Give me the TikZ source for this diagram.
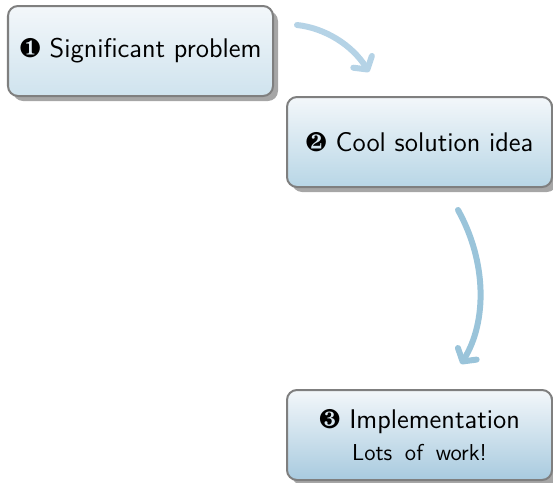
\documentclass[tikz,border=0pt]{standalone}
\usepackage{pifont}
\usetikzlibrary{shadows,arrows.meta}
\definecolor{bordergray}{HTML}{7F7F7F}
\definecolor{topc}{HTML}{F3F7FA}
\definecolor{botA}{HTML}{CFE3EE}
\definecolor{botB}{HTML}{B8D6E6}
\definecolor{botC}{HTML}{A8CADF}
\definecolor{arrA}{HTML}{B5D3E6}
\definecolor{arrB}{HTML}{9AC4DA}
\tikzset{
  stepbox/.style={draw=bordergray, line width=1pt, rounded corners=5pt,
    minimum width=132.5pt, minimum height=45pt, align=center,
    font=\sffamily\fontsize{13.5}{16}\selectfont, top color=topc,
    drop shadow={shadow xshift=2.5pt, shadow yshift=-2.5pt, fill=black!35, opacity=1}},
  flowarrow/.style={line width=3pt, line cap=round,
    -{Straight Barb[length=4.5pt, width=11pt, round]}},
}
\begin{document}
\begin{tikzpicture}[x=0.5pt,y=-0.5pt]
\useasboundingbox (0,0) rectangle (553,483);
\node[stepbox, bottom color=botA] (n1) at (140.5,51) {\ding{182} Significant problem};
\node[stepbox, bottom color=botB] (n2) at (419.5,142) {\ding{183} Cool solution idea};
\node[stepbox, bottom color=botC] (n3) at (419.5,435) {\ding{184} Implementation\\[0pt] {\fontsize{11.5}{13}\selectfont\spaceskip=0.55em plus 0.1em Lots of work!}};
\coordinate (a1s) at (297,25);
\coordinate (a1e) at (369,72);
\coordinate (a2s) at (458,210);
\coordinate (a2e) at (461,364);
\draw[flowarrow, draw=arrA] (a1s) .. controls (325,28) and (352,45) .. (a1e);
\draw[flowarrow, draw=arrB] (a2s) .. controls (487,262) and (487,322) .. (a2e);
\end{tikzpicture}
\end{document}
